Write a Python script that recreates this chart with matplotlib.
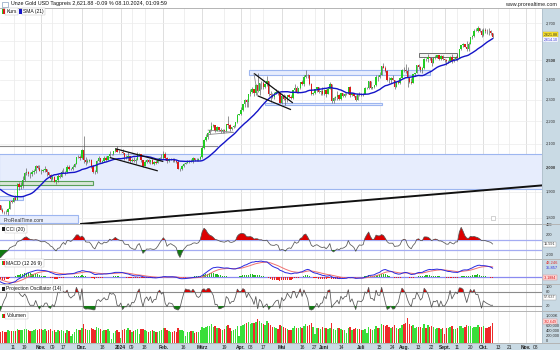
import numpy as np
import pandas as pd
import matplotlib
matplotlib.use("Agg")
import matplotlib.pyplot as plt
import matplotlib.transforms as mtransforms
from matplotlib.patches import Rectangle
from matplotlib.lines import Line2D
from matplotlib.ticker import NullLocator

plt.rcParams["font.family"] = ["Liberation Sans", "DejaVu Sans"]

# --- data: spot gold daily, Sep 2023 only used to warm up the indicators
pre_close = [1940,1939,1926,1916,1919,1919,1922,1913,1908,1910,1924,1934,1931,1930,1920,1925,1916,1901,1875,1865,1848]
pre_high = [1953,1943,1942,1928,1922,1929,1925,1925,1917,1914,1926,1937,1937,1947,1932,1935,1927,1917,1903,1880,1880]
pre_low = [1935,1936,1923,1915,1913,1915,1913,1908,1901,1901,1909,1922,1929,1929,1913,1917,1914,1899,1871,1858,1846]

# 02.10.2023 .. 08.10.2024 (business days)
close = [
1828,1822,1821,1820,1833, 1862,1861,1874,1868,1932, 1919,1923,1947,1974,1981, 1973,1971,1979,1985,2006,
1996,1983,1982,1986,1992, 1978,1969,1950,1958,1940, 1946,1963,1959,1981,1981, 1978,1998,1990,1992,2002,
2014,2041,2044,2036,2072, 2029,2019,2025,2028,2005, 1981,1979,2027,2037,2019, 2027,2040,2031,2045,2053,
2053,2067,2077,2065,2063, 2063,2059,2042,2043,2045, 2027,2030,2024,2029,2049, 2055,2028,2006,2023,2029,
2021,2029,2014,2020,2018, 2032,2037,2039,2054,2039, 2025,2035,2035,2034,2024, 2020,1992,1992,2004,2013,
2017,2024,2025,2024,2036, 2031,2029,2034,2044,2083, 2114,2128,2148,2160,2179, 2182,2158,2174,2162,2156,
2160,2157,2186,2181,2165, 2172,2179,2195,2230,2233, 2251,2280,2300,2290,2330, 2339,2352,2333,2372,2344,
2383,2383,2361,2379,2391, 2327,2322,2316,2332,2337, 2335,2286,2320,2303,2301, 2323,2314,2309,2346,2360,
2336,2358,2386,2376,2415, 2425,2421,2379,2329,2334, 2351,2361,2338,2343,2327, 2350,2327,2355,2376,2294,
2311,2316,2325,2303,2333, 2319,2329,2329,2361,2322, 2334,2319,2298,2327,2326, 2323,2330,2356,2356,2392,
2359,2364,2371,2415,2411, 2422,2469,2459,2445,2400, 2396,2409,2397,2365,2387, 2384,2410,2447,2446,2443,
2410,2390,2383,2427,2431, 2472,2465,2447,2456,2507, 2504,2514,2512,2485,2512, 2518,2524,2504,2521,2503,
2500,2493,2495,2516,2497, 2506,2516,2512,2558,2578, 2582,2569,2560,2587,2622, 2628,2657,2657,2672,2658,
2634,2663,2658,2656,2653, 2644,2621.88]

high = [
1849,1836,1825,1827,1835, 1865,1866,1877,1885,1934, 1937,1937,1962,1980,1997, 1984,1980,1987,1991,2009,
2009,2007,1992,1993,2003, 1993,1978,1972,1965,1961, 1946,1971,1970,1988,1994, 1984,2007,2007,1995,2008,
2018,2041,2052,2049,2075, 2135,2043,2032,2035,2034, 2009,1988,2030,2047,2039, 2030,2047,2047,2048,2070,
2055,2069,2083,2088,2074, 2064,2078,2060,2051,2064, 2048,2037,2041,2040,2062, 2059,2057,2031,2029,2034,
2033,2031,2034,2024,2029, 2036,2042,2055,2066,2065, 2041,2039,2040,2040,2039, 2030,2031,1997,2008,2016,
2020,2030,2030,2035,2041, 2040,2038,2037,2048,2089, 2119,2141,2153,2165,2195, 2189,2185,2177,2175,2168,
2165,2163,2187,2223,2186, 2176,2185,2195,2236,2233, 2265,2282,2304,2305,2330, 2354,2365,2354,2378,2431,
2385,2392,2392,2384,2418, 2392,2342,2334,2338,2352, 2347,2335,2327,2327,2323, 2326,2331,2323,2350,2378,
2368,2360,2388,2398,2422, 2450,2430,2425,2385,2340, 2354,2362,2364,2348,2361, 2355,2351,2361,2388,2379,
2313,2319,2342,2329,2335, 2334,2332,2335,2365,2368, 2336,2335,2325,2331,2339, 2336,2334,2365,2363,2392,
2394,2365,2373,2424,2425, 2440,2469,2483,2470,2447, 2413,2412,2423,2400,2390, 2395,2412,2451,2462,2477,
2462,2414,2407,2428,2432, 2475,2477,2467,2462,2509, 2510,2532,2516,2512,2513, 2527,2526,2526,2524,2525,
2506,2503,2498,2523,2529, 2509,2520,2529,2560,2581, 2589,2584,2600,2595,2625, 2632,2664,2670,2685,2674,
2668,2673,2670,2669,2670, 2660,2645]

low = [
1827,1816,1815,1813,1810, 1833,1854,1858,1867,1868, 1908,1911,1915,1942,1966, 1961,1954,1962,1970,1977,
1993,1982,1970,1979,1980, 1964,1962,1944,1946,1938, 1932,1938,1955,1958,1976, 1965,1974,1986,1989,1988,
2001,2012,2036,2030,2034, 2015,2010,2017,2023,1995, 1975,1973,1976,2023,2015, 2016,2023,2024,2028,2042,
2050,2049,2065,2062,2058, 2062,2057,2030,2035,2024, 2017,2023,2021,2014,2028, 2048,2020,2002,2003,2017,
2017,2011,2011,2010,2014, 2016,2028,2033,2033,2030, 2015,2023,2030,2021,2021, 2017,1990,1984,1989,2000,
2012,2016,2017,2020,2017, 2027,2024,2025,2031,2039, 2076,2112,2122,2141,2158, 2175,2150,2157,2154,2146,
2145,2146,2150,2171,2157, 2160,2171,2175,2191,2229, 2228,2246,2266,2268,2267, 2319,2336,2319,2325,2340,
2324,2353,2355,2359,2367, 2319,2292,2310,2305,2327, 2325,2286,2283,2298,2277, 2291,2310,2304,2305,2337,
2335,2333,2352,2372,2370, 2408,2407,2373,2325,2325, 2331,2340,2335,2323,2322, 2324,2314,2327,2354,2286,
2286,2302,2298,2300,2302, 2312,2314,2326,2328,2316, 2319,2312,2294,2298,2319, 2318,2319,2328,2352,2355,
2354,2353,2360,2369,2395, 2407,2422,2456,2436,2394, 2384,2385,2396,2353,2364, 2376,2379,2409,2439,2431,
2364,2385,2379,2382,2418, 2431,2455,2440,2431,2454, 2494,2491,2498,2470,2484, 2507,2509,2501,2501,2500,
2492,2472,2483,2490,2485, 2490,2500,2495,2509,2555, 2570,2566,2546,2548,2585, 2614,2622,2653,2649,2651,
2625,2627,2646,2641,2633, 2636,2619]

volume_k = [
430,470,450,440,520, 500,470,480,490,560, 520,510,540,560,580, 520,480,500,520,560,
540,560,570,520,560, 500,520,560,480,540, 460,540,500,520,480, 420,520,480,300,380,
460,560,520,540,600, 760,580,520,540,620, 560,520,660,620,580, 480,520,540,560,500,
180,420,500,520,460, 200,540,560,520,600, 520,440,480,520,560, 360,580,560,520,500,
460,500,520,480,440, 460,500,540,600,620, 520,480,440,460,480, 440,620,540,520,500,
300,440,460,480,500, 420,440,460,540,640, 620,660,680,700,760, 640,680,620,600,580,
520,560,680,720,600, 500,520,560,700,300, 680,740,760,800,840, 760,820,800,860,960,
880,820,760,740,900, 820,720,660,640,600, 580,720,700,640,620, 560,540,520,620,680,
620,600,660,620,700, 760,680,720,800,640, 360,600,620,580,640, 600,620,580,620,820,
560,540,620,600,580, 520,540,420,620,640, 520,560,600,580,560, 520,540,560,420,640,
580,540,560,680,620, 620,760,720,700,740, 660,600,640,720,620, 560,620,740,760,820,
1000,760,700,720,620, 640,660,640,620,760, 620,720,640,680,640, 560,600,620,580,600,
380,620,600,640,680, 560,580,620,700,680, 620,640,720,700,680, 600,660,640,720,660,
640,700,620,600,640, 680,782.649]

tick_dates = ["2023-10-11","2023-10-19","2023-11-01","2023-11-09","2023-11-17","2023-12-01","2023-12-18",
              "2024-01-01","2024-01-09","2024-01-18","2024-02-01","2024-02-16","2024-03-01","2024-03-19",
              "2024-04-01","2024-04-08","2024-04-17","2024-05-01","2024-05-16","2024-05-27","2024-06-03",
              "2024-06-14","2024-07-01","2024-07-15","2024-07-24","2024-08-01","2024-08-13","2024-08-22",
              "2024-09-02","2024-09-11","2024-09-20","2024-10-01","2024-10-11","2024-10-21","2024-11-01",
              "2024-11-08"]
tick_labels = ["11","19","Nov.","09","17","Dez.","18","2024","09","18","Feb.","16","März","19","Apr.","08",
               "17","Mai","16","27","Juni","14","Juli","15","24","Aug.","13","22","Sept.","11","20","Okt.",
               "13","21","Nov.","08"]
month_labels = ["Nov.","Dez.","2024","Feb.","März","Apr.","Mai","Juni","Juli","Aug.","Sept.","Okt."]

price_levels = [1800,1900,2000,2100,2200,2300,2400,2500,2600,2700]
price_hidden = [2600]  # covered by the last-price boxes in the original

# drawn zones: start, end, low, high
zone_start = ["2023-10-02","2023-10-02","2023-10-02","2024-04-08","2024-04-19"]
zone_end = ["2024-11-15","2023-11-29","2023-10-18","2024-08-21","2024-07-16"]
zone_low = [1912,1780,1866,2421,2274]
zone_high = [2057,1811,1881,2446,2287]
# trend lines: (date0, price0, date1, price1, black?)
trend_lines = [("2023-11-30",1776,"2024-11-14",1925,True),
               ("2023-12-27",2078,"2024-02-01",2023,True),
               ("2023-12-22",2040,"2024-01-29",1984,True),
               ("2024-04-10",2431,"2024-05-09",2286,True),
               ("2024-04-12",2320,"2024-05-08",2254,True),
               ("2024-04-10",2431,"2024-04-12",2320,False),
               ("2024-03-06",2160,"2024-03-26",2150,False),
               ("2024-03-06",2140,"2024-03-26",2150,False)]

# --- frame
n_pre = len(pre_close)
c = np.array(pre_close + close, dtype=float)
h = np.array(pre_high + high, dtype=float)
l = np.array(pre_low + low, dtype=float)
o = np.r_[c[0], c[:-1]]
x = np.arange(len(c)) - n_pre
vol = np.array(volume_k) * 1000

days = pd.bdate_range("2023-09-01", "2024-12-31")
origin = days.get_loc(pd.Timestamp("2023-10-02"))


def xpos(d):
    return days.searchsorted(pd.Timestamp(d)) - origin


cs = pd.Series(c)
sma = cs.rolling(21).mean()
tp = pd.Series((h + l + c) / 3)
mad = tp.rolling(20).apply(lambda v: np.abs(v - v.mean()).mean(), raw=True)
cci = (tp - tp.rolling(20).mean()) / (0.015 * mad)
macd = cs.ewm(span=12, adjust=False).mean() - cs.ewm(span=26, adjust=False).mean()
signal = macd.ewm(span=9, adjust=False).mean()
hist = macd - signal


def proj_osc(hh, ll, cc, n=14):
    out = np.full(len(cc), np.nan)
    xs = np.arange(n)
    back = xs[::-1]
    for t in range(n - 1, len(cc)):
        hw = hh[t - n + 1:t + 1]
        lw = ll[t - n + 1:t + 1]
        sh = np.polyfit(xs, hw, 1)[0]
        sl = np.polyfit(xs, lw, 1)[0]
        up = np.max(hw + back * sh)
        lo = np.min(lw + back * sl)
        out[t] = 100 * (cc[t] - lo) / (up - lo)
    return out


po = proj_osc(h, l, c)

# --- figure
W, H = 560, 350
fig = plt.figure(figsize=(5.6, 3.5), dpi=100)
fig.patch.set_facecolor("white")
strip = "#c9dae4"


def pbox(x0, y0, x1, y1):
    return [x0 / W, 1 - y1 / H, (x1 - x0) / W, (y1 - y0) / H]


fig.patches.append(Rectangle((542 / W, 0), 18 / W, 1 - 8 / H, transform=fig.transFigure,
                             fc=strip, ec="none", zorder=-2))
fig.patches.append(Rectangle((0, 0), 1, 7 / H, transform=fig.transFigure, fc=strip, ec="none", zorder=-2))

ax = fig.add_axes(pbox(0, 8, 542, 224))
ax_cci = fig.add_axes(pbox(0, 224, 542, 259))
ax_macd = fig.add_axes(pbox(0, 259, 542, 284))
ax_po = fig.add_axes(pbox(0, 284, 542, 311))
ax_v = fig.add_axes(pbox(0, 311, 542, 343))
panels = [ax, ax_cci, ax_macd, ax_po, ax_v]

tick_x = [xpos(d) for d in tick_dates]
for a in panels:
    a.set_xlim(-0.3, 292.7)
    for sp in a.spines.values():
        sp.set_visible(False)
    a.tick_params(left=False, right=False, bottom=False, labelleft=False, labelbottom=False)
    for tx, tl in zip(tick_x, tick_labels):
        a.axvline(tx, color="#d2d2d2" if tl in month_labels else "#e9e9e9", lw=0.5, zorder=0)

blend = lambda a: mtransforms.blended_transform_factory(a.transAxes, a.transData)


def rlabel(a, y, s, color="#333333", fc=None, ec=None, va="center", weight="normal", size=2.9):
    bb = dict(boxstyle="square,pad=0.12", fc=fc, ec=ec or fc, lw=0.3) if fc else None
    a.text(1.0075 if fc is None else 1.0035, y, s, transform=blend(a), fontsize=size, color=color,
           va=va, ha="left", fontweight=weight, bbox=bb, clip_on=False, zorder=10)


# --- price panel
ax.set_yscale("log")
ax.set_ylim(1776, 2786)
ax.yaxis.set_minor_locator(NullLocator())
ax.set_yticks(price_levels)
ax.tick_params(axis="y", which="both", left=False, right=False, labelleft=False)
for p in price_levels:
    ax.axhline(p, color="#ececec", lw=0.5, zorder=0)
    if p not in price_hidden:
        rlabel(ax, p, f"{p:,}", weight="bold" if p in (2000, 2500) else "normal")

for zs, ze, zl, zh in zip(zone_start, zone_end, zone_low, zone_high):
    x0 = xpos(zs) - 0.8
    ax.add_patch(Rectangle((x0, zl), xpos(ze) - x0, zh - zl, fc="#e7edfd", ec="#9db6f0", lw=0.8, zorder=1))
ax.add_patch(Rectangle((-0.8, 1928), xpos("2023-12-11") + 0.8, 15, fc="#d9e6d9", ec="#5aa05a", lw=0.8, zorder=1))
ax.add_patch(Rectangle((xpos("2024-08-13"), 2516), xpos("2024-09-11") - xpos("2024-08-13"), 21,
                       fc="#f4f4f4", ec="#707070", lw=0.7, zorder=1))
ax.plot([-0.5, xpos("2024-03-13")], [2090, 2090], color="#8c8c8c", lw=0.8, zorder=2)

m = x >= 0
up = c >= o
ccol = np.where(up, "#22cc22", "#dd1a1a")
ax.vlines(x[m], l[m], h[m], color="#555555", lw=0.45, zorder=3)
ax.bar(x[m], np.abs(c - o)[m], bottom=np.minimum(o, c)[m], width=0.75, color=ccol[m], lw=0, zorder=4)
ax.plot(x[m], sma[m], color="#1414c8", lw=1.0, zorder=5)

for d0, p0, d1, p1, black in trend_lines:
    ax.plot([xpos(d0), xpos(d1)], [p0, p1], color="#111111" if black else "#8a8a8a",
            lw=1.4 if d1 == "2024-11-14" else (0.9 if black else 0.6), zorder=6, solid_capstyle="butt")

rlabel(ax, 2626, "2,621.88", color="#222222", fc="#ffe930", ec="#c8a800", va="bottom", size=2.6)
rlabel(ax, 2618, "2,614.10", color="#2020d0", fc="white", ec="#c0c8f0", va="top", size=2.6)
ax.text(1.5, 1790, "ProRealTime.com", fontsize=3.6, color="#333333", va="center", zorder=7)
ax.add_patch(Rectangle((0.906, 0.02), 0.008, 0.018, transform=ax.transAxes, fc="white", ec="#b0b0b0", lw=0.4))

# --- CCI
ax_cci.set_ylim(-280, 420)
ax_cci.axhline(100, color="#a4acf2", lw=0.9, zorder=1)
ax_cci.axhline(-100, color="#a4acf2", lw=0.9, zorder=1)
cv = cci.values
ax_cci.fill_between(x, cv, 100, where=cv > 100, interpolate=True, color="#dd0000", lw=0, zorder=2)
ax_cci.fill_between(x, cv, -100, where=cv < -100, interpolate=True, color="#127a12", lw=0, zorder=2)
ax_cci.plot(x, cv, color="#555555", lw=0.55, zorder=3)
for v in (400, 200, -200):
    rlabel(ax_cci, v, str(v))
rlabel(ax_cci, 15.591, "15.591", fc="white", ec="#999999", size=2.7)

# --- MACD
ax_macd.set_ylim(-28, 72)
ax_macd.axhline(0, color="#8a8af0", lw=0.9, zorder=1)
hv = hist.values
ax_macd.bar(x, hv, width=0.6, color=np.where(hv >= 0, "#22bb22", "#ee2222"), lw=0, zorder=2)
ax_macd.plot(x, signal.values, color="#f07070", lw=0.7, zorder=3)
ax_macd.plot(x, macd.values, color="#2a2ae0", lw=0.7, zorder=4)
rlabel(ax_macd, 48.246, "48.246", color="#e03030", va="bottom")
rlabel(ax_macd, 44, "35.857", color="#2a2ae0", va="top")
rlabel(ax_macd, -3.1884, "-3.1884", color="#cc1010", fc="#ffd8d8", ec="#e08080", size=2.6)

# --- Projection Oscillator
ax_po.set_ylim(-1.4, 114.3)
ax_po.axhline(80, color="#8c8c8c", lw=0.8, zorder=1)
ax_po.axhline(20, color="#8c8c8c", lw=0.8, zorder=1)
ax_po.fill_between(x, po, 80, where=po > 80, interpolate=True, color="#dd0000", lw=0, zorder=2)
ax_po.fill_between(x, po, 20, where=po < 20, interpolate=True, color="#127a12", lw=0, zorder=2)
ax_po.plot(x, po, color="#555555", lw=0.55, zorder=3)
for v in (100, 80, 20):
    rlabel(ax_po, v, str(v))
rlabel(ax_po, 57.637, "57.637", fc="white", ec="#999999", size=2.7)

# --- Volume
ax_v.set_ylim(0, 1.28e6)
ax_v.bar(x[m], vol, width=0.75, color=np.where(up[m], "#3ade3a", "#ee2a2a"), lw=0, zorder=2)
for v, s in [(1e6, "1,000K"), (6e5, "600,000"), (4e5, "400,000"), (2e5, "200,000"), (0, "0")]:
    rlabel(ax_v, v, s, va="bottom")
rlabel(ax_v, vol[-1], "782,649", color="#dd1010", fc="#ffe4e4", ec="#e08080", va="bottom", size=2.6)
ax_v.set_xticks(tick_x)
ax_v.set_xticklabels(tick_labels)
ax_v.tick_params(axis="x", labelbottom=True, length=0, pad=1.3, labelsize=3.5, labelcolor="#222222")
for t in ax_v.get_xticklabels():
    if t.get_text() in month_labels:
        t.set_fontweight("bold")

# --- frame lines, title, legends
for yy in (8, 224, 259, 284, 311, 343):
    fig.add_artist(Line2D([0, 1], [1 - yy / H] * 2, transform=fig.transFigure, color="#b4b4b4", lw=0.7))
fig.add_artist(Line2D([542 / W] * 2, [7 / H, 1 - 8 / H], transform=fig.transFigure, color="#a8b8c4", lw=0.5))

fig.patches.append(Rectangle((2 / W, 1 - 7 / H), 6 / W, 5 / H, transform=fig.transFigure,
                             fc="white", ec="#6a8ab0", lw=0.4))
fig.text(11 / W, 1 - 4 / H, "Unze Gold USD Tagpreis 2,621.88 -0.09 % 08.10.2024, 01:09:59",
         fontsize=3.9, va="center", ha="left", color="#111111")
fig.text(557 / W, 1 - 4.5 / H, "www.prorealtime.com", fontsize=3.9, va="center", ha="right", color="#222222")


def header(xp, yp, text, icons):
    fig.text((xp + 5) / W, 1 - yp / H, text, fontsize=3.6, va="center", ha="left", color="#111111",
             bbox=dict(boxstyle="square,pad=0.25", fc="white", ec="#bcbcbc", lw=0.3))
    for k, col in enumerate(icons):
        fig.patches.append(Rectangle(((xp + k * 1.5) / W, 1 - (yp + 2) / H), 1.5 / W, 4 / H,
                                     transform=fig.transFigure, fc=col, ec="none", zorder=5))


header(1.5, 11.5, "Kurs", ["#22cc22", "#dd1a1a"])
header(18.5, 11.5, "SMA (21)", ["#1414c8", "#1414c8"])
header(1.5, 229, "CCI (20)", ["#222222", "#222222"])
header(1.5, 263, "MACD (12 26 9)", ["#22bb22", "#ee2222"])
header(1.5, 288.5, "Projection Oscillator (14)", ["#222222", "#222222"])
header(1.5, 315.5, "Volumen", ["#22cc22", "#dd1a1a"])

fig.savefig("out.png", dpi=100)
